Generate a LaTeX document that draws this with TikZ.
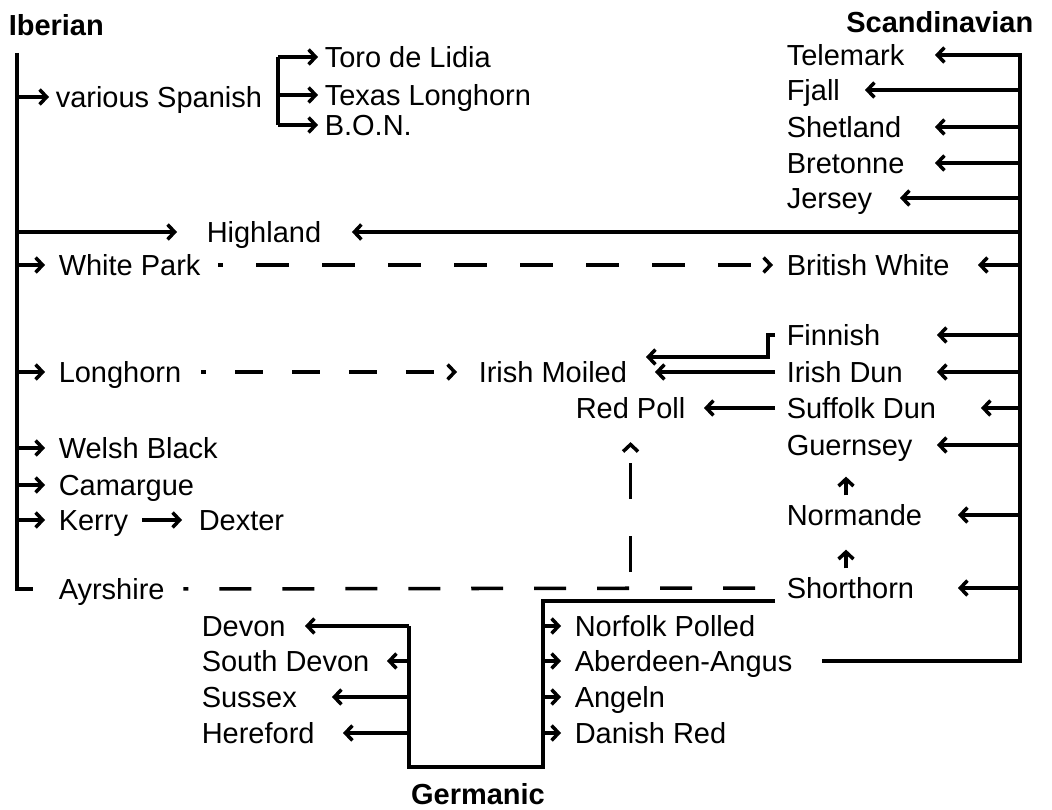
\documentclass[tikz,border=0pt]{standalone}
\usepackage{fontspec}
\setmainfont{Liberation Sans}
\usepackage{tikz}
\usetikzlibrary{arrows.meta}

\begin{document}
\begin{tikzpicture}[x=0.02cm,y=-0.02cm,line width=2pt,
  every node/.style={font=\fontsize{16.5pt}{20pt}\selectfont,inner sep=0pt,text height=11.8pt,text depth=0pt},
  breed/.style={anchor=west},
  group/.style={font=\fontsize{16.5pt}{20pt}\selectfont\bfseries},
  arr/.style={-{Straight Barb[length=4pt,width=8.5pt]}}]
  \useasboundingbox (0,0) rectangle (1052,810);
  % groups
  \node[group,anchor=west] at(7,25)(iberian){Iberian};
  \node[group,anchor=east] at(1035,22)(scandinavian){Scandinavian};
  \node[group] at(478,794)(germanic){Germanic};
  % Iberian side
  \node[breed] at(54,97)(spanish){various Spanish};
  \node[breed] at(323,57)(toro){Toro de Lidia};
  \node[breed] at(323,95)(texas){Texas Longhorn};
  \node[breed] at(323,125)(bon){B.O.N.};
  \node[breed] at(205,232)(highland){Highland};
  \node[breed] at(57,265)(whitepark){White Park};
  \node[breed] at(57,372)(longhorn){Longhorn};
  \node[breed] at(57,448)(welsh){Welsh Black};
  \node[breed] at(57,485)(camargue){Camargue};
  \node[breed] at(57,520)(kerry){Kerry};
  \node[breed] at(197,520)(dexter){Dexter};
  \node[breed] at(57,589)(ayrshire){Ayrshire};
  \node[breed] at(477,372)(irishmoiled){Irish Moiled};
  \node[breed] at(574,408)(redpoll){Red Poll};
  % Scandinavian side
  \node[breed] at(785,55)(telemark){Telemark};
  \node[breed] at(785,90)(fjall){Fjall};
  \node[breed] at(785,127)(shetland){Shetland};
  \node[breed] at(785,163)(bretonne){Bretonne};
  \node[breed] at(785,198)(jersey){Jersey};
  \node[breed] at(785,265)(britishwhite){British White};
  \node[breed] at(785,335)(finnish){Finnish};
  \node[breed] at(785,372)(irishdun){Irish Dun};
  \node[breed] at(785,408)(suffolk){Suffolk Dun};
  \node[breed] at(785,445)(guernsey){Guernsey};
  \node[breed] at(785,515)(normande){Normande};
  \node[breed] at(785,588)(shorthorn){Shorthorn};
  % Germanic side
  \node[breed] at(200,626)(devon){Devon};
  \node[breed] at(200,661)(southdevon){South Devon};
  \node[breed] at(200,697)(sussex){Sussex};
  \node[breed] at(200,733)(hereford){Hereford};
  \node[breed] at(573,626)(norfolk){Norfolk Polled};
  \node[breed] at(573,661)(aberdeen){Aberdeen-Angus};
  \node[breed] at(573,697)(angeln){Angeln};
  \node[breed] at(573,733)(danish){Danish Red};

  % Iberian trunk
  \coordinate (ib) at(17,53);
  \draw (ib) |- ([xshift=-0.48cm]ayrshire.west);
  \draw[arr,shorten >=0.1cm] (ib |- spanish) -- (spanish.west);
  \draw[arr] (ib |- highland) -- ([xshift=-0.56cm]highland.west);
  \draw[arr,shorten >=0.24cm] (ib |- whitepark) -- (whitepark.west);
  \draw[arr,shorten >=0.24cm] (ib |- longhorn) -- (longhorn.west);
  \draw[arr,shorten >=0.24cm] (ib |- welsh) -- (welsh.west);
  \draw[arr,shorten >=0.24cm] (ib |- camargue) -- (camargue.west);
  \draw[arr,shorten >=0.24cm] (ib |- kerry) -- (kerry.west);
  \draw (278,0 |- toro) -- (278,0 |- bon);
  \draw[arr,shorten >=0.1cm] (278,0 |- toro) -- (toro.west);
  \draw[arr,shorten >=0.1cm] (278,0 |- texas) -- (texas.west);
  \draw[arr,shorten >=0.1cm] (278,0 |- bon) -- (bon.west);
  \draw[arr,shorten <=0.24cm,shorten >=0.3cm] (kerry.east) -- (dexter.west);
  \draw[arr,dash pattern=on 0.66cm off 0.66cm,dash phase=0.56cm,shorten <=0.32cm,shorten >=0.24cm] (whitepark.east) -- (britishwhite.west);
  \draw[arr,dash pattern=on 0.56cm off 0.58cm,dash phase=0.46cm,shorten <=0.36cm,shorten >=0.4cm] (longhorn.east) -- (irishmoiled.west);
  \draw[dash pattern=on 0.64cm off 0.62cm,dash phase=0.54cm,shorten <=0.34cm,shorten >=0.2cm] (ayrshire.east) -- (shorthorn.west);

  % Scandinavian trunk
  \coordinate (sc) at(1020,53);
  \draw (sc) |- ([xshift=0.56cm]aberdeen.east);
  \draw[arr] (sc |- telemark) -- (935,0 |- telemark);
  \draw[arr] (sc |- fjall) -- (865,0 |- fjall);
  \draw[arr] (sc |- shetland) -- (935,0 |- shetland);
  \draw[arr] (sc |- bretonne) -- (935,0 |- bretonne);
  \draw[arr] (sc |- jersey) -- (900,0 |- jersey);
  \draw[arr] (sc |- highland) -- ([xshift=0.58cm]highland.east);
  \draw[arr] (sc |- britishwhite) -- (978,0 |- britishwhite);
  \draw[arr] (sc |- finnish) -- (937,0 |- finnish);
  \draw[arr] (sc |- irishdun) -- (937,0 |- irishdun);
  \draw[arr] (sc |- suffolk) -- (981,0 |- suffolk);
  \draw[arr] (sc |- guernsey) -- (937,0 |- guernsey);
  \draw[arr] (sc |- normande) -- (958,0 |- normande);
  \draw[arr] (sc |- shorthorn) -- (958,0 |- shorthorn);
  \draw[arr] ([xshift=-0.2cm]finnish.west) -- ++(-7,0) -- ++(0,22) -- (646,357);
  \draw[arr] ([xshift=-0.2cm]irishdun.west) -- (655,0 |- irishdun);
  \draw[arr] ([xshift=-0.2cm]suffolk.west) -- (704,0 |- suffolk);
  \draw[arr,shorten <=0.15cm,shorten >=0.39cm] (846,0 |- normande.north) -- (846,0 |- guernsey.south);
  \draw[arr,shorten <=0.15cm,shorten >=0.45cm] (846,0 |- shorthorn.north) -- (846,0 |- normande.south);

  % Germanic trunk
  \coordinate (gm) at(543,601);
  \draw (775,601) -- (gm) |- (409,767) -- (409,0 |- devon);
  \draw[arr,dash pattern=on 0.72cm off 0.74cm,dash phase=0.88cm,shorten >=0.44cm] (redpoll.south |- gm) -- (redpoll.south);
  \draw[arr] (gm |- norfolk) -- ([xshift=-0.24cm]norfolk.west);
  \draw[arr] (gm |- aberdeen) -- ([xshift=-0.24cm]aberdeen.west);
  \draw[arr] (gm |- angeln) -- ([xshift=-0.24cm]angeln.west);
  \draw[arr] (gm |- danish) -- ([xshift=-0.24cm]danish.west);
  \draw[arr] (409,0 |- devon) -- (305,0 |- devon);
  \draw[arr] (409,0 |- southdevon) -- (387,0 |- southdevon);
  \draw[arr] (409,0 |- sussex) -- (332,0 |- sussex);
  \draw[arr] (409,0 |- hereford) -- (343,0 |- hereford);
\end{tikzpicture}
\end{document}
